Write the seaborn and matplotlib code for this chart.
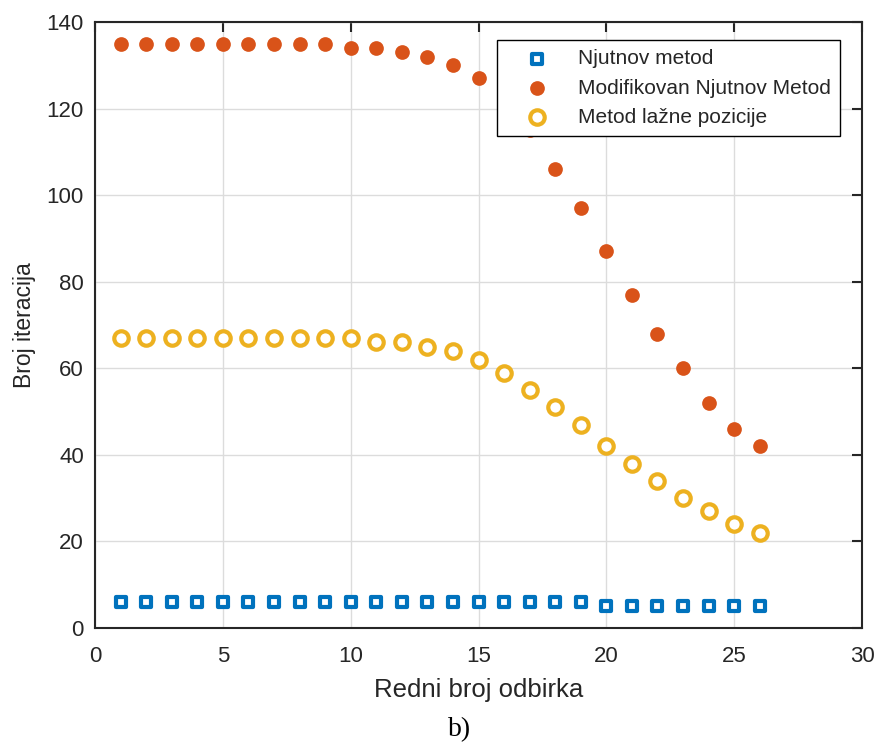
import numpy as np
import pandas as pd
import matplotlib
matplotlib.use("Agg")
import matplotlib.pyplot as plt
import seaborn as sns

# ---- data ----
redni_broj = list(range(1, 27))
njutnov = [6] * 19 + [5] * 7
modifikovan = [135, 135, 135, 135, 135, 135, 135, 135, 135, 134, 134, 133, 132,
               130, 127, 122, 115, 106, 97, 87, 77, 68, 60, 52, 46, 42]
lazna_pozicija = [67, 67, 67, 67, 67, 67, 67, 67, 67, 67, 66, 66, 65, 64, 62,
                  59, 55, 51, 47, 42, 38, 34, 30, 27, 24, 22]
series_names = ["Njutnov metod", "Modifikovan Njutnov Metod", "Metod lažne pozicije"]
x_ticks = [0, 5, 10, 15, 20, 25, 30]
y_ticks = [0, 20, 40, 60, 80, 100, 120, 140]

sns.set_style("white")
plt.rcParams["font.family"] = ["Liberation Sans", "DejaVu Sans"]

df = pd.DataFrame({
    "x": redni_broj * 3,
    "y": njutnov + modifikovan + lazna_pozicija,
    "serija": [series_names[0]] * 26 + [series_names[1]] * 26 + [series_names[2]] * 26,
})

fig = plt.figure(figsize=(8.77, 7.42), dpi=100)
ax = fig.add_axes([95 / 877, 1 - 628 / 742, (862 - 95) / 877, (628 - 22) / 742])

blue, red, yellow = "#0072BD", "#D95319", "#EDB120"

sns.scatterplot(data=df[df.serija == series_names[0]], x="x", y="y", ax=ax,
                marker="s", s=48, facecolor="white", edgecolor=blue,
                linewidth=3.0, label=series_names[0], zorder=3)
sns.scatterplot(data=df[df.serija == series_names[1]], x="x", y="y", ax=ax,
                marker="o", s=112, color=red, edgecolor=red, linewidth=0,
                label=series_names[1], zorder=3)
sns.scatterplot(data=df[df.serija == series_names[2]], x="x", y="y", ax=ax,
                marker="o", s=108, facecolor="white", edgecolor=yellow,
                linewidth=3.0, label=series_names[2], zorder=3)

ax.set_xlim(0, 30)
ax.set_ylim(0, 140)
ax.set_xticks(x_ticks)
ax.set_yticks(y_ticks)
ax.grid(True, color="#dcdcdc", linewidth=1.0)
ax.set_axisbelow(True)

tick_color = "#262626"
for sp in ax.spines.values():
    sp.set_visible(True)
    sp.set_color(tick_color)
    sp.set_linewidth(1.5)
ax.tick_params(direction="in", length=7, width=1.5, color=tick_color,
               labelsize=16, labelcolor=tick_color, top=True, right=True,
               pad=8)
ax.tick_params(axis="x", pad=13)

ax.set_xlabel("Redni broj odbirka", fontsize=18.5, color=tick_color, labelpad=8)
ax.set_ylabel("Broj iteracija", fontsize=16.5, color=tick_color, labelpad=8)

leg = ax.legend(loc="upper right", bbox_to_anchor=(0.9713, 0.9703), fontsize=15,
                frameon=True, fancybox=False, edgecolor="black", framealpha=1,
                handletextpad=0.5, borderpad=0.45, labelspacing=0.49,
                handlelength=2.92, borderaxespad=0)
leg.get_frame().set_linewidth(1.0)
leg.set_zorder(10)

fig.text(460 / 877, 1 - 730 / 742, "b)", fontsize=20,
         family=["Liberation Serif", "DejaVu Serif"], ha="center", va="center",
         color="black")

fig.savefig("out.png", dpi=100)
